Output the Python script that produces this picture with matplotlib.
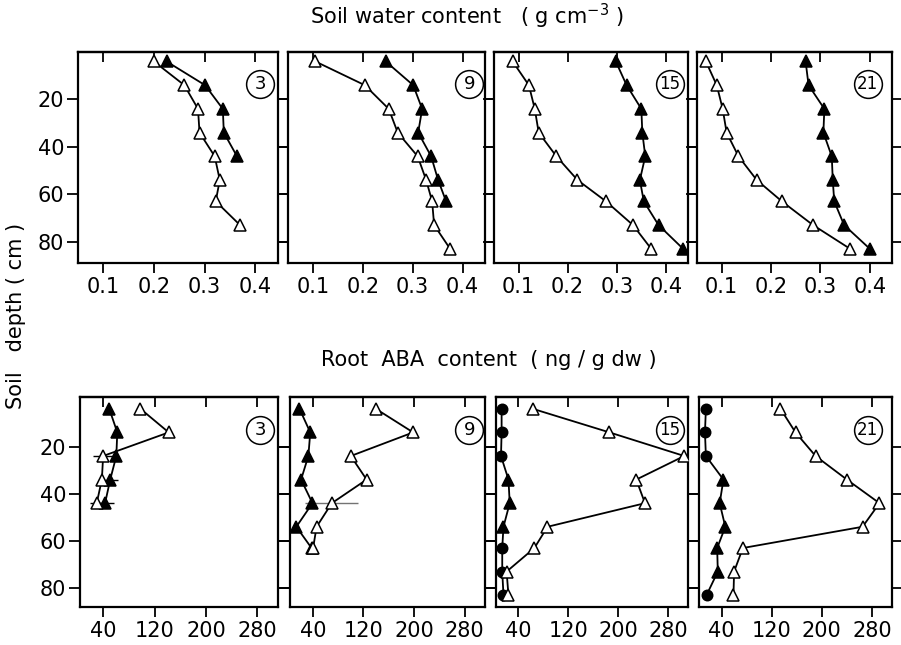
"""
Soil water content and root ABA content against soil depth, days 3, 9, 15, 21.
"""

import matplotlib
matplotlib.use("Agg")
import matplotlib.pyplot as plt

plt.rcParams["font.family"] = ["DejaVu Sans"]

# depths of the sampled layers (cm)
DEPTH = [4, 14, 24, 34, 44, 54, 63, 73, 83]
DAYS = ["3", "9", "15", "21"]

# soil water content (g cm-3); open = dry side, filled = watered side
water_open_d3 = [0.20, 0.26, 0.287, 0.29, 0.32, 0.33, 0.322, 0.37]
water_filled_d3 = [0.225, 0.301, 0.336, 0.338, 0.364]
water_open_d9 = [0.105, 0.204, 0.252, 0.27, 0.31, 0.327, 0.339, 0.343, 0.375]
water_filled_d9 = [0.246, 0.301, 0.319, 0.311, 0.337, 0.351, 0.367]
water_open_d15 = [0.088, 0.121, 0.133, 0.141, 0.177, 0.22, 0.278, 0.333, 0.37]
water_filled_d15 = [0.298, 0.32, 0.35, 0.352, 0.358, 0.347, 0.355, 0.385, 0.435]
water_open_d21 = [0.068, 0.09, 0.102, 0.11, 0.134, 0.171, 0.222, 0.285, 0.36]
water_filled_d21 = [0.27, 0.276, 0.308, 0.306, 0.323, 0.325, 0.328, 0.348, 0.40]

# root ABA content (ng / g dw)
aba_open_d3 = [98, 142, 40, 38, 30]
aba_filled_d3 = [49.5, 62, 60.5, 51, 43]
aba_open_err_d3 = [0, 0, 16, 0, 10]
aba_filled_err_d3 = [0, 0, 0, 12, 14]
aba_open_d9 = [139.5, 198.5, 100, 125, 70, 46, 40.5]
aba_filled_d9 = [19, 36, 33, 21.5, 39.5, 14, 38]
aba_open_err_d9 = [0, 0, 0, 0, 42, 0, 0]
aba_open_d15 = [63, 186, 306, 229, 243, 86.6, 65.6, 21, 24]
aba_filled_d15 = [13, 13, 12, 24, 26, 16, 14, 14, 16]
aba_filled_mk_d15 = "ooo^^^ooo"
aba_open_d21 = [134, 158, 190, 240, 292, 265, 74, 60, 59]
aba_filled_d21 = [15, 13.5, 15, 43, 37, 46, 33, 34, 16]
aba_filled_mk_d21 = "ooo^^^^^o"

WATER_TICKS = [0.1, 0.2, 0.3, 0.4]
ABA_TICKS = [40, 120, 200, 280]
DEPTH_TICKS = [20, 40, 60, 80]

W, H = 901, 645
LEFTS = [78, 288, 494, 697]
RIGHTS = [278, 485, 688, 892]
LABEL_X = [0.91, 0.92, 0.905, 0.875]


def make_axes(fig, x0, x1, y0, y1):
    return fig.add_axes([x0 / W, 1 - y1 / H, (x1 - x0) / W, (y1 - y0) / H])


def style_axes(ax, xticks, xlim, ylim, show_ylabels, fmt):
    ax.set_xlim(*xlim)
    ax.set_ylim(*ylim)
    for sp in ax.spines.values():
        sp.set_linewidth(1.6)
    ax.set_xticks(xticks)
    ax.set_xticklabels([fmt(t) for t in xticks])
    ax.set_yticks(DEPTH_TICKS)
    if not show_ylabels:
        ax.set_yticklabels([])
    ax.tick_params(axis="x", direction="out", length=7, width=1.3,
                   labelsize=15, pad=3)
    ax.tick_params(axis="y", direction="out", length=8, width=1.3,
                   left=True, right=True, labelsize=15, pad=2)
    sec = ax.secondary_xaxis("top")
    sec.set_xticks(xticks)
    sec.set_xticklabels([])
    sec.tick_params(direction="in", length=7, width=1.3)
    sec.spines["top"].set_linewidth(1.6)


def draw_series(ax, x, filled, markers=None, err=None, ecolor="k"):
    d = DEPTH[: len(x)]
    if markers is None:
        markers = "^" * len(x)
    if err is not None:
        ax.errorbar(x, d, xerr=err, fmt="none", ecolor=ecolor,
                    elinewidth=1.0, capsize=0, zorder=1)
    ax.plot(x, d, "-", color="k", lw=1.3, zorder=2)
    for xi, di, m in zip(x, d, markers):
        ms = 7.5 if m == "o" else 9
        ax.plot(xi, di, marker=m, ms=ms, mfc="k" if filled else "white",
                mec="k", mew=1.1, zorder=3 if filled else 4)


def circled(ax, fx, fy, label):
    ax.plot(fx, fy, "o", ms=20, mfc="white", mec="k", mew=1.1,
            transform=ax.transAxes, clip_on=False, zorder=5)
    ax.text(fx, fy - 0.003, label, transform=ax.transAxes, ha="center",
            va="center", fontsize=13 if len(label) == 1 else 12, zorder=6)


def main() -> None:
    fig = plt.figure(figsize=(W / 100, H / 100), dpi=100)

    water = [
        (water_open_d3, water_filled_d3),
        (water_open_d9, water_filled_d9),
        (water_open_d15, water_filled_d15),
        (water_open_d21, water_filled_d21),
    ]
    aba = [
        (aba_open_d3, aba_filled_d3, None, aba_open_err_d3, aba_filled_err_d3),
        (aba_open_d9, aba_filled_d9, None, aba_open_err_d9, None),
        (aba_open_d15, aba_filled_d15, aba_filled_mk_d15, None, None),
        (aba_open_d21, aba_filled_d21, aba_filled_mk_d21, None, None),
    ]

    for i in range(4):
        ax = make_axes(fig, LEFTS[i], RIGHTS[i], 52, 263)
        style_axes(ax, WATER_TICKS, (0.05, 0.445), (89, 0), i == 0,
                   lambda t: f"{t:.1f}")
        op, fl = water[i]
        draw_series(ax, fl, True)
        draw_series(ax, op, False)
        circled(ax, LABEL_X[i], 0.85, DAYS[i])

    for i in range(4):
        ax = make_axes(fig, LEFTS[i] + 2, RIGHTS[i], 397, 607)
        style_axes(ax, ABA_TICKS, (4, 312), (88, -1), i == 0,
                   lambda t: f"{t:d}")
        op, fl, mk, op_err, fl_err = aba[i]
        draw_series(ax, fl, True, markers=mk, err=fl_err)
        draw_series(ax, op, False, err=op_err,
                    ecolor="0.45" if i == 1 else "k")
        circled(ax, LABEL_X[i], 0.845, DAYS[i])

    fig.text(0.518, 0.975, "Soil water content   ( g cm$^{-3}$ )",
             ha="center", va="center", fontsize=15)
    fig.text(0.543, 0.442, "Root  ABA  content  ( ng / g dw )",
             ha="center", va="center", fontsize=15)
    fig.text(0.018, 0.51, "Soil   depth ( cm )", rotation=90,
             ha="center", va="center", fontsize=15)

    fig.savefig("out.png", dpi=100)


if __name__ == "__main__":
    main()
